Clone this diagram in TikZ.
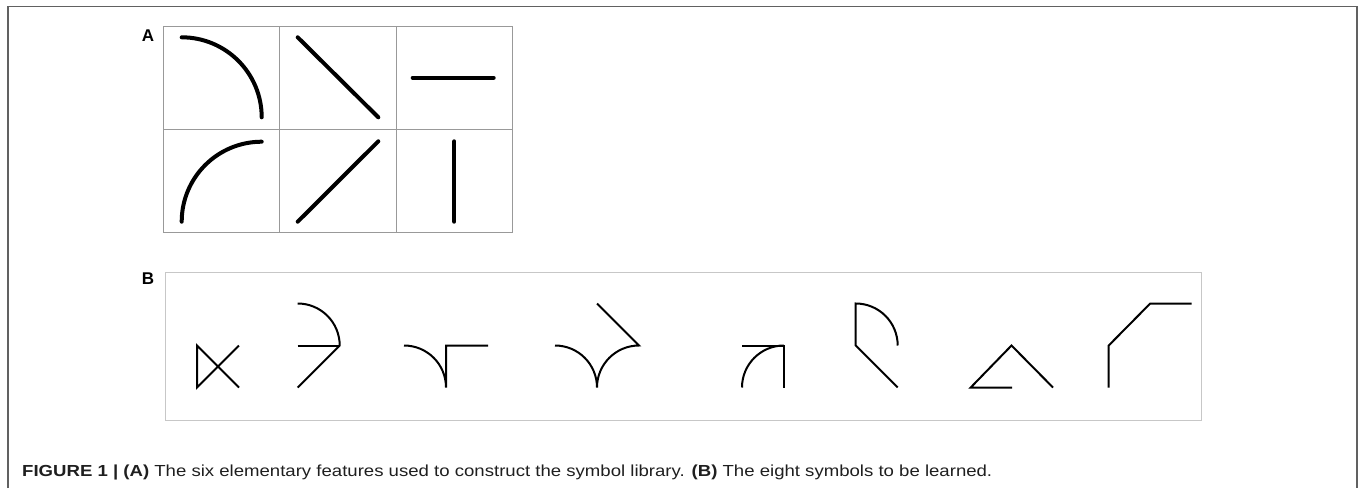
\documentclass[tikz,border=0pt]{standalone}
\usepackage{fontspec}
\setmainfont{Liberation Sans}
\usepackage{graphicx}
\begin{document}
\begin{tikzpicture}[x=1pt,y=-1pt,
  outerframe/.style={draw=black!62, line width=1.6pt},
  gridline/.style={draw=black!40, line width=1pt},
  feat/.style={line width=4pt, line cap=round},
  sym/.style={line width=2pt, line join=miter},
  panellab/.style={font=\fontsize{17}{17}\selectfont\bfseries, inner sep=0pt}]
\useasboundingbox (0,0) rectangle (1360,488);
% outer frame (open at bottom)
\draw[outerframe] (8,488) -- (8,6.5) -- (1357,6.5) -- (1357,488);

% ---- Panel A ----
\node[panellab] (labA) at (148,36) {A};
\draw[gridline] (163.3,26) rectangle (512.3,232);
\draw[gridline] (279.7,26) -- (279.7,232);
\draw[gridline] (396,26) -- (396,232);
\draw[gridline] (163.3,129) -- (512.3,129);
% features
\draw[feat] (181.7,37.3) arc[start angle=-90, end angle=0, radius=80];
\draw[feat] (297.7,37.3) -- (378.3,117.3);
\draw[feat] (412.7,77.7) -- (493.7,77.7);
\draw[feat] (181.7,221.7) arc[start angle=180, end angle=270, radius=80];
\draw[feat] (297.7,221.7) -- (378.3,141.3);
\draw[feat] (454.3,141.3) -- (454.3,221.7);

% ---- Panel B ----
\node[panellab] (labB) at (148,279) {B};
\draw[draw=black!22, line width=1pt] (165.3,272.3) rectangle (1201,420.3);
% symbol 1
\draw[sym] (239,345.5) -- (197,387.5) -- (197,345.5) -- (239,387.5);
% symbol 2
\draw[sym] (297.7,303.5) arc[start angle=-90, end angle=0, radius=42] -- (297.7,387.5);
\draw[sym] (297.7,345.5) -- (339.7,345.5);
% symbol 3
\draw[sym] (404,345.5) arc[start angle=-90, end angle=0, radius=42] -- (446,345.5) -- (488,345.5);
% symbol 4
\draw[sym] (555,345.5) arc[start angle=-90, end angle=0, radius=42]
   arc[start angle=180, end angle=270, radius=42] -- (597,303.5);
% symbol 5
\draw[sym] (742,345.5) -- (784,345.5) -- (784,387.5);
\draw[sym] (742,387.5) arc[start angle=180, end angle=270, radius=42];
% symbol 6
\draw[sym] (897.7,345.5) arc[start angle=0, end angle=-90, radius=42] -- (855.7,345.5) -- (897.7,387.5);
% symbol 7
\draw[sym] (1012.2,387.5) -- (970.7,387.5) -- (1011.5,345.5) -- (1053,387.5);
% symbol 8
\draw[sym] (1108.7,387.5) -- (1108.7,345.5) -- (1150.2,303.5) -- (1191.5,303.5);

% ---- caption ----
\node[anchor=base west, inner sep=0pt, text=black!88] (caption) at (22,476)
  {\resizebox{970pt}{\height}{\fontsize{16}{18}\selectfont\textbf{FIGURE 1 |} \textbf{(A)} The six elementary features used to construct the symbol library. \textbf{(B)} The eight symbols to be learned.}};
\end{tikzpicture}
\end{document}
